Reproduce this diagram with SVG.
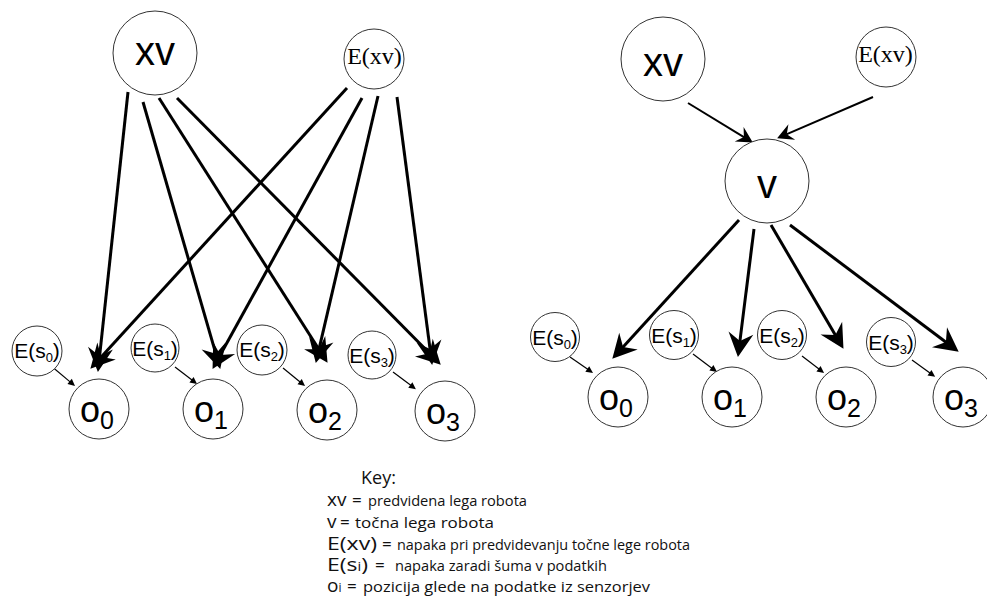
<svg xmlns="http://www.w3.org/2000/svg" width="987" height="598" viewBox="0 0 987 598">
<style>
.node{fill:#fff;stroke:#333;stroke-width:1}
.big{stroke:#000;stroke-width:3;fill:none}
.mid{stroke:#000;stroke-width:2;fill:none}
.sm{stroke:#000;stroke-width:1.2;fill:none}
.sans{font-family:"Liberation Sans",Arial,sans-serif;fill:#000}
.serif{font-family:"Liberation Serif","Times New Roman",serif;fill:#000}
.key{font-family:"Open Sans","Liberation Sans",sans-serif;fill:#111}
.lbl{font-size:40px;text-anchor:middle}
.es{font-size:21px;text-anchor:middle}
.o{font-size:36px;text-anchor:middle}
</style>
<defs>
<marker id="ab" markerUnits="userSpaceOnUse" viewBox="-12 -14 30 28" markerWidth="30" markerHeight="28" refX="0" refY="0" orient="auto">
<path d="M15,0 L-9,-12.5 L-1,0 L-9,12.5 Z" fill="#000"/>
</marker>
<marker id="am" markerUnits="userSpaceOnUse" viewBox="-8 -10 20 20" markerWidth="20" markerHeight="20" refX="0" refY="0" orient="auto">
<path d="M10,0 L-6,-8.5 L-0.5,0 L-6,8.5 Z" fill="#000"/>
</marker>
<marker id="as" markerUnits="userSpaceOnUse" viewBox="-2 -4 10 8" markerWidth="10" markerHeight="8" refX="0" refY="0" orient="auto">
<path d="M6,0 L-1,-3.4 L-1,3.4 Z" fill="#000"/>
</marker>
</defs>

<g id="connectors">
<line class="big" x1="128" y1="92" x2="99.5" y2="357.1" marker-end="url(#ab)"/>
<line class="big" x1="347" y1="88" x2="100.5" y2="357.7" marker-end="url(#ab)"/>
<line class="big" x1="143" y1="102" x2="216.1" y2="354.6" marker-end="url(#ab)"/>
<line class="big" x1="362" y1="98" x2="219.8" y2="355.8" marker-end="url(#ab)"/>
<line class="big" x1="159" y1="98" x2="319.5" y2="350.2" marker-end="url(#ab)"/>
<line class="big" x1="378" y1="96" x2="319.2" y2="348.4" marker-end="url(#ab)"/>
<line class="big" x1="177" y1="98" x2="430.2" y2="354" marker-end="url(#ab)"/>
<line class="big" x1="397" y1="97" x2="430.2" y2="350.1" marker-end="url(#ab)"/>
<line class="sm" x1="50" y1="365" x2="70.4" y2="382.1" marker-end="url(#as)"/>
<line class="sm" x1="175" y1="367" x2="192.3" y2="380.3" marker-end="url(#as)"/>
<line class="sm" x1="283" y1="368" x2="300.4" y2="382.2" marker-end="url(#as)"/>
<line class="sm" x1="393" y1="372" x2="411.1" y2="385.6" marker-end="url(#as)"/>

<line class="mid" x1="688" y1="103" x2="744.3" y2="137.3" marker-end="url(#am)"/>
<line class="mid" x1="873" y1="97" x2="786.3" y2="134.4" marker-end="url(#am)"/>
<line class="big" x1="739" y1="220" x2="622.4" y2="347.7" marker-end="url(#ab)"/>
<line class="big" x1="754" y1="229" x2="739.8" y2="342.1" marker-end="url(#ab)"/>
<line class="big" x1="771" y1="225" x2="835.9" y2="335.9" marker-end="url(#ab)"/>
<line class="big" x1="790" y1="225" x2="946.7" y2="342.7" marker-end="url(#ab)"/>
<line class="sm" x1="570" y1="357" x2="588.1" y2="369.6" marker-end="url(#as)"/>
<line class="sm" x1="693" y1="354" x2="712.2" y2="368.4" marker-end="url(#as)"/>
<line class="sm" x1="802" y1="356" x2="819.3" y2="369.3" marker-end="url(#as)"/>
<line class="sm" x1="912" y1="360" x2="930.3" y2="373.3" marker-end="url(#as)"/>
</g>

<!-- left diagram -->
<g id="L_xv"><circle class="node" cx="155" cy="53" r="42"/><text class="sans lbl" x="155" y="65">xv</text></g>
<g id="L_exv"><circle class="node" cx="374" cy="59" r="30"/><text class="serif" x="374.5" y="64" font-size="24" text-anchor="middle">E(xv)</text></g>
<g id="L_es0"><circle class="node" cx="37" cy="351" r="25"/><text class="sans es" x="37" y="358">E(s<tspan font-size="13" dy="4">0</tspan><tspan dy="-4">)</tspan></text></g>
<g id="L_es1"><circle class="node" cx="155" cy="348" r="24"/><text class="sans es" x="155" y="356">E(s<tspan font-size="13" dy="4">1</tspan><tspan dy="-4">)</tspan></text></g>
<g id="L_es2"><circle class="node" cx="262" cy="350" r="25"/><text class="sans es" x="262" y="357">E(s<tspan font-size="13" dy="4">2</tspan><tspan dy="-4">)</tspan></text></g>
<g id="L_es3"><circle class="node" cx="372" cy="355" r="24"/><text class="sans es" x="372" y="363">E(s<tspan font-size="13" dy="4">3</tspan><tspan dy="-4">)</tspan></text></g>
<g id="L_o0"><circle class="node" cx="99" cy="409" r="30"/><text class="sans o" x="97" y="422">o<tspan font-size="25" dy="6.5">0</tspan></text></g>
<g id="L_o1"><circle class="node" cx="213" cy="409" r="30"/><text class="sans o" x="211" y="422">o<tspan font-size="25" dy="6.5">1</tspan></text></g>
<g id="L_o2"><circle class="node" cx="327" cy="410" r="30"/><text class="sans o" x="325" y="423">o<tspan font-size="25" dy="6.5">2</tspan></text></g>
<g id="L_o3"><circle class="node" cx="445" cy="411" r="30"/><text class="sans o" x="443" y="424">o<tspan font-size="25" dy="6.5">3</tspan></text></g>

<!-- right diagram -->
<g id="R_xv"><circle class="node" cx="663" cy="59" r="42"/><text class="sans lbl" x="663" y="76">xv</text></g>
<g id="R_exv"><circle class="node" cx="886" cy="57" r="30"/><text class="serif" x="885.5" y="62" font-size="24" text-anchor="middle">E(xv)</text></g>
<g id="R_v"><circle class="node" cx="767" cy="181" r="42"/><text class="sans lbl" x="767" y="198">v</text></g>
<g id="R_es0"><circle class="node" cx="555" cy="337" r="24.5"/><text class="sans es" x="555" y="345">E(s<tspan font-size="13" dy="4">0</tspan><tspan dy="-4">)</tspan></text></g>
<g id="R_es1"><circle class="node" cx="674" cy="335" r="24.5"/><text class="sans es" x="674" y="343">E(s<tspan font-size="13" dy="4">1</tspan><tspan dy="-4">)</tspan></text></g>
<g id="R_es2"><circle class="node" cx="782" cy="335" r="24.5"/><text class="sans es" x="782" y="343">E(s<tspan font-size="13" dy="4">2</tspan><tspan dy="-4">)</tspan></text></g>
<g id="R_es3"><circle class="node" cx="891" cy="342" r="24.5"/><text class="sans es" x="891" y="350">E(s<tspan font-size="13" dy="4">3</tspan><tspan dy="-4">)</tspan></text></g>
<g id="R_o0"><circle class="node" cx="618" cy="397" r="30"/><text class="sans o" x="616" y="410">o<tspan font-size="25" dy="6.5">0</tspan></text></g>
<g id="R_o1"><circle class="node" cx="732" cy="397" r="30"/><text class="sans o" x="730" y="410">o<tspan font-size="25" dy="6.5">1</tspan></text></g>
<g id="R_o2"><circle class="node" cx="846" cy="397" r="30"/><text class="sans o" x="844" y="410">o<tspan font-size="25" dy="6.5">2</tspan></text></g>
<g id="R_o3"><circle class="node" cx="963" cy="397" r="30"/><text class="sans o" x="961" y="410">o<tspan font-size="25" dy="6.5">3</tspan></text></g>

<!-- key -->
<g id="key" class="key">
<text x="361" y="484" font-size="18">Key:</text>
<text x="327" y="506" font-size="19">xv</text>
<text x="352" y="506" font-size="17">=</text>
<text x="368" y="506" font-size="15" textLength="159" lengthAdjust="spacingAndGlyphs">predvidena lega robota</text>
<text x="327" y="528" font-size="19">v</text>
<text x="340" y="528" font-size="17">=</text>
<text x="355" y="528" font-size="15" textLength="139" lengthAdjust="spacingAndGlyphs">točna lega robota</text>
<text x="327" y="550" font-size="19" textLength="50" lengthAdjust="spacingAndGlyphs">E(xv)</text>
<text x="382" y="550" font-size="17">=</text>
<text x="397" y="550" font-size="15" textLength="293" lengthAdjust="spacingAndGlyphs">napaka pri predvidevanju točne lege robota</text>
<text x="327" y="571" font-size="19" textLength="41" lengthAdjust="spacingAndGlyphs">E(s<tspan font-size="12">i</tspan>)</text>
<text x="375" y="571" font-size="17">=</text>
<text x="395" y="571" font-size="15" textLength="212" lengthAdjust="spacingAndGlyphs">napaka zaradi šuma v podatkih</text>
<text x="327" y="592" font-size="19">o<tspan font-size="12">i</tspan></text>
<text x="347" y="592" font-size="17">=</text>
<text x="363" y="592" font-size="15" textLength="287" lengthAdjust="spacingAndGlyphs">pozicija glede na podatke iz senzorjev</text>
</g>
</svg>
